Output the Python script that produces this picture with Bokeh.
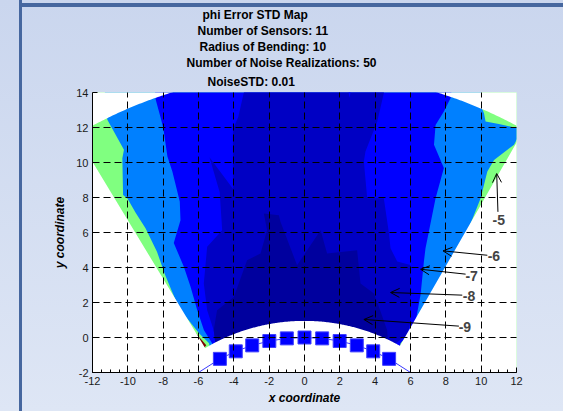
import numpy as np
from bokeh.plotting import figure
from bokeh.models import Range1d, SingleIntervalTicker, Label, Arrow, OpenHead, Title
from bokeh.embed import file_html
from bokeh.resources import INLINE

# ---------------- data ----------------
# bent sensor array (11 sensors, radius of bending 10)
sensor_x = [-4.79, -3.89, -2.96, -1.99, -1.00, 0.00, 1.00, 1.99, 2.96, 3.89, 4.79]
sensor_y = [-1.22, -0.79, -0.45, -0.20, -0.05, 0.00, -0.05, -0.20, -0.45, -0.79, -1.22]
array_x = [-6.00, -4.79, -3.89, -2.96, -1.99, -1.00, 0.00, 1.00, 1.99, 2.96, 3.89, 4.79, 6.00]
array_y = [-2.00, -1.22, -0.79, -0.45, -0.20, -0.05, 0.00, -0.05, -0.20, -0.45, -0.79, -1.22, -2.00]

# evaluation domain (annular sector around the bending centre)
bend_cy = -10.0
r_inner = 10.95
r_outer = 25.15
theta_left = -0.5396
theta_right = 0.5165

# contour levels (log10 of phi error STD) and their colours
level_labels = ["-9", "-8", "-7", "-6", "-5"]
col_green = "#80FF80"
col_lblue = "#0080FF"
col_blue = "#0000FF"
col_mid = "#0000C4"
col_dark = "#00009E"
col_red = "#800000"

# region boundaries
lblue_x = [-11.3, -11.16, -10.22, -10.31, -10.27, -10.03, -9.55, -9.0, -8.35, -7.9, -7.3, -7.2,
           -6.68, -5.97, -5.40, -5.3, 5.2, 5.3, 5.55, 5.98, 6.5, 9.2, 9.97, 10.35, 10.73, 11.86,
           12.05, 12.5, 12.5, 12.05, 11.0, 10.25, 10.16, 10.0, 10.0, -11.3]
lblue_y = [13.5, 12.44, 10.73, 10.25, 8.15, 7.96, 7.11, 6.25, 4.9, 3.6, 2.15, 1.5,
           1.14, 0.25, -0.33, -1.5, -1.5, -0.4, -0.1, 0.53, 0.9, 6.0, 7.96, 9.49, 10.15, 11.01,
           11.39, 11.5, 11.95, 11.96, 12.2, 12.35, 12.82, 13.2, 15.5, 15.5]

blue_x = [-8.6, -8.42, -8.14, -7.99, -7.76, -7.48, -7.06, -7.02, -7.4, -6.83, -6.45, -6.07,
          -5.69, -5.22, -5.1, 5.2, 5.44, 6.01, 6.29, 6.57, 6.76, 6.85, 7.05, 7.42, 7.89, 7.33,
          7.42, 7.89, 8.27, 8.5]
blue_y = [15.5, 13.58, 12.54, 11.96, 10.35, 9.49, 7.77, 6.7, 5.4, 4.04, 2.9, 1.56,
          0.42, -0.34, -1.5, -1.5, -0.33, 0.34, 0.91, 2.44, 4.34, 5.10, 6.1, 7.96, 9.68, 11.01,
          12.15, 12.92, 13.68, 15.5]

mid_x = [-3.3, -3.42, -3.75, -4.05, -4.05, -5.38, -4.8, -4.66, -5.51, -5.70, -5.51, -5.14,
         -4.9, 5.0, 5.2, 5.82, 6.0, 6.0, 5.25, 4.87, 4.78, 4.49, 3.55, 3.36, 3.45, 4.12, 4.49, 4.6]
mid_y = [15.5, 14.06, 12.6, 11.9, 8.5, 10.3, 8.3, 6.13, 5.18, 3.08, 1.56, 0.42,
         -1.5, -1.5, -0.3, 0.15, 0.91, 4.15, 4.34, 5.10, 5.96, 7.96, 7.96, 10.06, 10.63, 12.35, 13.96, 15.5]

notch_x = [2.3, 2.55, 2.8]
notch_y = [15.0, 13.7, 15.0]

dark_x = [-2.30, -1.45, -1.36, -0.42, 0.91, 1.28, 2.98, 3.17, 3.93, 4.3, 4.68, 4.8,
          -4.9, -5.14, -4.95, -4.0, -3.25, -2.49, -2.12]
dark_y = [7.08, 6.99, 6.61, 4.13, 6.13, 4.8, 4.99, 3.08, 2.51, 1.5, 0.42, -1.5,
          -1.5, 0.42, 1.56, 2.32, 4.42, 4.8, 6.13]

red_x = [-6.17, -5.68, -5.56]
red_y = [0.27, -0.58, -0.44]

title_lines = ["phi Error STD Map", "Number of Sensors: 11", "Radius of Bending: 10",
               "Number of Noise Realizations: 50", "NoiseSTD: 0.01"]
x_ticks = [-12, -10, -8, -6, -4, -2, 0, 2, 4, 6, 8, 10, 12]
y_ticks = [-2, 0, 2, 4, 6, 8, 10, 12, 14]

# ---------------- figure ----------------
FONT = "Liberation Sans"
p = figure(width=563, height=411, x_range=Range1d(-12, 12), y_range=Range1d(-2, 14),
           output_backend="svg", toolbar_location=None,
           min_border_left=92, min_border_right=47, min_border_top=92, min_border_bottom=39)
p.background_fill_color = "white"
p.border_fill_color = "#D3DEF1"
p.border_fill_alpha = 0.0
p.outline_line_color = None
p.styles = {
    "background-image": ("linear-gradient(to right, transparent 19px, #46679f 19px, #46679f 22px, transparent 22px), "
                         "linear-gradient(to bottom, transparent 3px, #46679f 3px, #46679f 7px, transparent 7px), "
                         "linear-gradient(to bottom, #cad6ee, #dee6f5)"),
    "background-size": "100% 100%, calc(100% - 20px) 100%, 100% 100%",
    "background-position": "0 0, 20px 0, 0 0",
    "background-repeat": "no-repeat",
}

# filled contour regions
p.patch([-13, 13, 13, -13], [-3, -3, 16, 16], fill_color=col_green, line_color=None)
p.patch(lblue_x, lblue_y, fill_color=col_lblue, line_color=None)
p.patch(red_x, red_y, fill_color=col_red, line_color=None)
p.patch(blue_x, blue_y, fill_color=col_blue, line_color=None)
p.patch(mid_x, mid_y, fill_color=col_mid, line_color=None)
p.patch(notch_x, notch_y, fill_color=col_blue, line_color=None)
p.patch(dark_x, dark_y, fill_color=col_dark, line_color=None)

# mask outside the evaluation domain
th = np.linspace(theta_left, theta_right, 240)
ox = r_outer * np.sin(th)
oy = bend_cy + r_outer * np.cos(th)
ix = r_inner * np.sin(th[::-1])
iy = bend_cy + r_inner * np.cos(th[::-1])
dom_x = list(ox) + list(ix)
dom_y = list(oy) + list(iy)
p.multi_polygons(xs=[[[[-13, 13, 13, -13], dom_x]]], ys=[[[[-3, -3, 16, 16], dom_y]]],
                 fill_color="white", line_color=None)

# sensor array
p.line(array_x, array_y, line_color="#3a3aff", line_width=1)
sq = p.scatter(sensor_x, sensor_y, marker="square", size=13, fill_color="#0000FF",
               line_color="#4040FF", line_width=1)
sq.level = "overlay"

# axes / grid
for ax in (p.xaxis, p.yaxis):
    ax.axis_line_color = "black"
    ax.major_tick_in = 5
    ax.major_tick_out = 0
    ax.minor_tick_in = 3
    ax.minor_tick_out = 0
    ax.major_label_text_font = FONT
    ax.major_label_text_font_size = "11px"
    ax.major_label_text_color = "#1a1a1a"
    ax.axis_label_text_font = FONT
    ax.axis_label_text_font_size = "12px"
    ax.axis_label_text_font_style = "bold italic"
    ax.axis_label_text_color = "black"
p.xaxis.ticker = SingleIntervalTicker(interval=2, num_minor_ticks=4)
p.yaxis.ticker = SingleIntervalTicker(interval=2, num_minor_ticks=0)
p.xaxis.major_label_overrides = {t: str(t) for t in x_ticks}
p.yaxis.major_label_overrides = {t: str(t) for t in y_ticks}
p.yaxis.minor_tick_line_color = None
p.xaxis.axis_label = "x coordinate"
p.yaxis.axis_label = "y coordinate"
p.xaxis.major_label_standoff = 4
p.xaxis.axis_label_standoff = 3
p.yaxis.major_label_standoff = 4
p.yaxis.axis_label_standoff = 6
for g, tk in ((p.xgrid, SingleIntervalTicker(interval=2)), (p.ygrid, SingleIntervalTicker(interval=2))):
    g.ticker = tk
    g.grid_line_color = "black"
    g.grid_line_dash = "7 4"
    g.grid_line_width = 1
    g.level = "overlay"

# title lines (added bottom-up: later titles sit further from the plot)
title_offsets = [110, 105, 107, 94, 115]
for i, (txt, off) in enumerate(reversed(list(zip(title_lines, title_offsets)))):
    p.add_layout(Title(text=txt, align="left", offset=off, text_font=FONT,
                       text_font_size="12px", text_font_style="bold", text_color="black",
                       standoff=7 if i == 0 else 0, text_line_height=1.3), "above")

# contour labels with arrows
label_pos = [(9.08, 0.61), (9.31, 2.36), (9.46, 3.52), (10.72, 4.66), (11.0, 6.70)]
arrow_seg = [((8.74, 0.65), (3.36, 1.03)), ((8.93, 2.42), (4.87, 2.57)), ((9.12, 3.62), (6.57, 3.90)),
             ((10.35, 4.70), (7.84, 4.95)), ((10.95, 7.18), (10.88, 9.37))]
for txt, (lx, ly), ((x0, y0), (x1, y1)) in zip(level_labels, label_pos, arrow_seg):
    p.add_layout(Arrow(end=OpenHead(size=9, line_width=1, line_color="black"),
                       x_start=x0, y_start=y0, x_end=x1, y_end=y1, line_width=1, line_color="black"))
    p.add_layout(Label(x=lx, y=ly, text=txt, text_font=FONT, text_font_size="14px",
                       text_font_style="bold", text_align="center", text_baseline="middle"))

open("out.html", "w").write(file_html(p, INLINE))
